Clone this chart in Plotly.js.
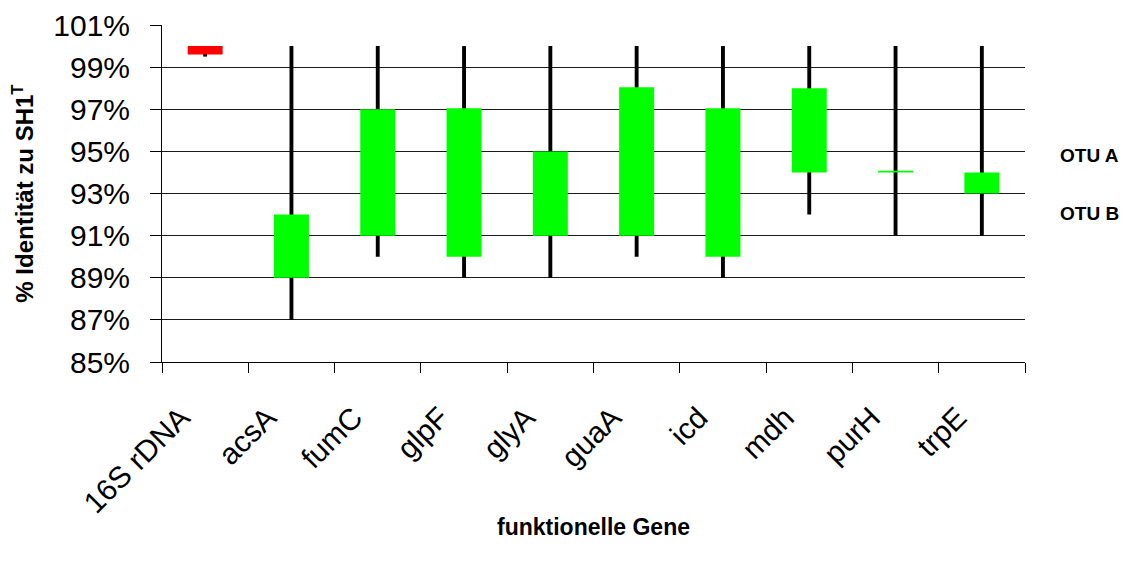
<!DOCTYPE html>
<html>
<head>
<meta charset="utf-8">
<script src="https://cdn.plot.ly/plotly-3.0.1.min.js"></script>
<style>html,body{margin:0;padding:0;background:#fff;}#chart{width:1126px;height:563px;}</style>
</head>
<body>
<div id="chart"></div>
<script>
// Categories (genes)
const genes = ['16S rDNA', 'acsA', 'fumC', 'glpF', 'glyA', 'guaA', 'icd', 'mdh', 'purH', 'trpE'];
// Whisker (range) low / high, % identity
const whiskerLow  = [99.5, 87, 90, 89, 89, 90, 89, 92, 91, 91];
const whiskerHigh = [100, 100, 100, 100, 100, 100, 100, 100, 100, 100];
// Box low / high, % identity
const boxLow  = [99.6, 89, 91, 90, 91, 91, 90, 94, 94, 93];
const boxHigh = [100, 92, 97, 97.05, 95, 98.05, 97.05, 98, 94.08, 94];
// Box colours
const boxColors = ['#FF0000', '#00FF00', '#00FF00', '#00FF00', '#00FF00', '#00FF00', '#00FF00', '#00FF00', '#00FF00', '#00FF00'];
// Y tick values
const yTicks = [85, 87, 89, 91, 93, 95, 97, 99, 101];
// Side labels
const sideLabels = ['OTU A', 'OTU B'];

const whisker = {
  type: 'bar',
  x: genes,
  base: whiskerLow,
  y: whiskerHigh.map((h, i) => h - whiskerLow[i]),
  width: 0.045,
  marker: {color: '#000000', line: {width: 0}},
  hoverinfo: 'skip',
  showlegend: false
};
const boxes = {
  type: 'bar',
  x: genes,
  base: boxLow,
  y: boxHigh.map((h, i) => h - boxLow[i]),
  width: 0.405,
  marker: {color: boxColors, line: {width: 0}},
  showlegend: false
};

const font = 'Liberation Sans, Arial, sans-serif';
const layout = {
  width: 1126,
  height: 563,
  margin: {l: 162, r: 101, t: 25, b: 201},
  paper_bgcolor: '#ffffff',
  plot_bgcolor: '#ffffff',
  barmode: 'overlay',
  showlegend: false,
  font: {family: font, color: '#000000'},
  xaxis: {
    type: 'category',
    tickson: 'boundaries',
    ticks: 'outside',
    ticklen: 10,
    tickwidth: 1,
    tickcolor: '#000000',
    showline: true,
    linecolor: '#000000',
    linewidth: 1,
    showgrid: false,
    tickangle: -45,
    ticklabelshift: -24,
    ticklabelstandoff: 25,
    tickfont: {family: font, size: 30, color: '#000000'},
    range: [-0.5, 9.5],
    title: {text: '<b>funktionelle Gene</b>', font: {family: font, size: 23, color: '#000000'}, standoff: 0},
    automargin: false
  },
  yaxis: {
    range: [85, 101],
    tickvals: yTicks,
    ticktext: yTicks.map(v => v + '%'),
    ticks: 'outside',
    ticklen: 11,
    tickwidth: 1,
    tickcolor: '#000000',
    ticklabelstandoff: 14,
    showline: true,
    linecolor: '#000000',
    linewidth: 1,
    showgrid: true,
    gridcolor: '#1a1a1a',
    gridwidth: 1,
    zeroline: false,
    tickfont: {family: font, size: 30, color: '#000000'},
    title: {text: '<b>% Identität zu SH1<sup>T</sup></b>', font: {family: font, size: 24, color: '#000000'}, standoff: 12},
    automargin: false
  },
  annotations: [
    {text: '<b>' + sideLabels[0] + '</b>', xref: 'paper', yref: 'paper', x: 1.038, y: 0.614, xanchor: 'left', yanchor: 'middle', showarrow: false, font: {family: font, size: 19, color: '#000000'}},
    {text: '<b>' + sideLabels[1] + '</b>', xref: 'paper', yref: 'paper', x: 1.038, y: 0.442, xanchor: 'left', yanchor: 'middle', showarrow: false, font: {family: font, size: 19, color: '#000000'}}
  ]
};

Plotly.newPlot('chart', [whisker, boxes], layout, {displayModeBar: false, staticPlot: true});
</script>
</body>
</html>
